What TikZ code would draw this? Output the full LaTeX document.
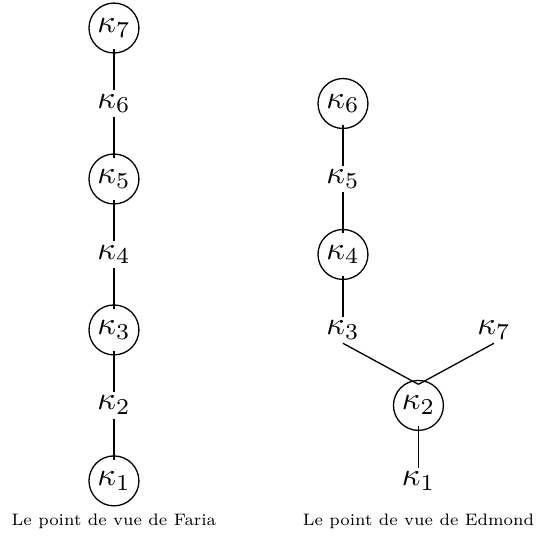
\documentclass[tikz,border=0pt]{standalone}
\usetikzlibrary{positioning}

\begin{document}
\begin{tikzpicture}[
    node distance=0.816cm and 0.816cm, on grid,
    circ/.style={circle, draw, minimum size=0.54cm, inner sep=0pt, outer sep=-1.2pt},
    kap/.style={inner sep=1pt},
    caption/.style={font=\scriptsize, scale=0.73, transform shape}
]
\useasboundingbox (-1.232,0.303) rectangle (4.573,-5.535);

% Faria
\node[circ]               (f7) {$\kappa_7$};
\node[kap,  below=of f7]  (f6) {$\kappa_6$};
\node[circ, below=of f6]  (f5) {$\kappa_5$};
\node[kap,  below=of f5]  (f4) {$\kappa_4$};
\node[circ, below=of f4]  (f3) {$\kappa_3$};
\node[kap,  below=of f3]  (f2) {$\kappa_2$};
\node[circ, below=of f2]  (f1) {$\kappa_1$};

% Edmond
\node[circ, right=2.476cm of f6] (e6) {$\kappa_6$};
\node[kap,  below=of e6]         (e5) {$\kappa_5$};
\node[circ, below=of e5]         (e4) {$\kappa_4$};
\node[kap,  below=of e4]         (e3) {$\kappa_3$};
\node[kap,  right=1.632cm of e3] (e7) {$\kappa_7$};
\node[circ, below right=of e3]   (e2) {$\kappa_2$};
\node[kap,  below=of e2]         (e1) {$\kappa_1$};

\draw (f7) -- (f6);
\draw (f6) -- (f5);
\draw (f5) -- (f4);
\draw (f4) -- (f3);
\draw (f3) -- (f2);
\draw (f2) -- (f1);

\draw (e6) -- (e5);
\draw (e5) -- (e4);
\draw (e4) -- (e3);
\draw (e3.south) -- (e2.north);
\draw (e7.south) -- (e2.north);
\draw (e2) -- (e1);

\node[caption, below=0.44cm of f1] (capf) {Le point de vue de Faria};
\node[caption, below=0.44cm of e1] (cape) {Le point de vue de Edmond};

\end{tikzpicture}
\end{document}
